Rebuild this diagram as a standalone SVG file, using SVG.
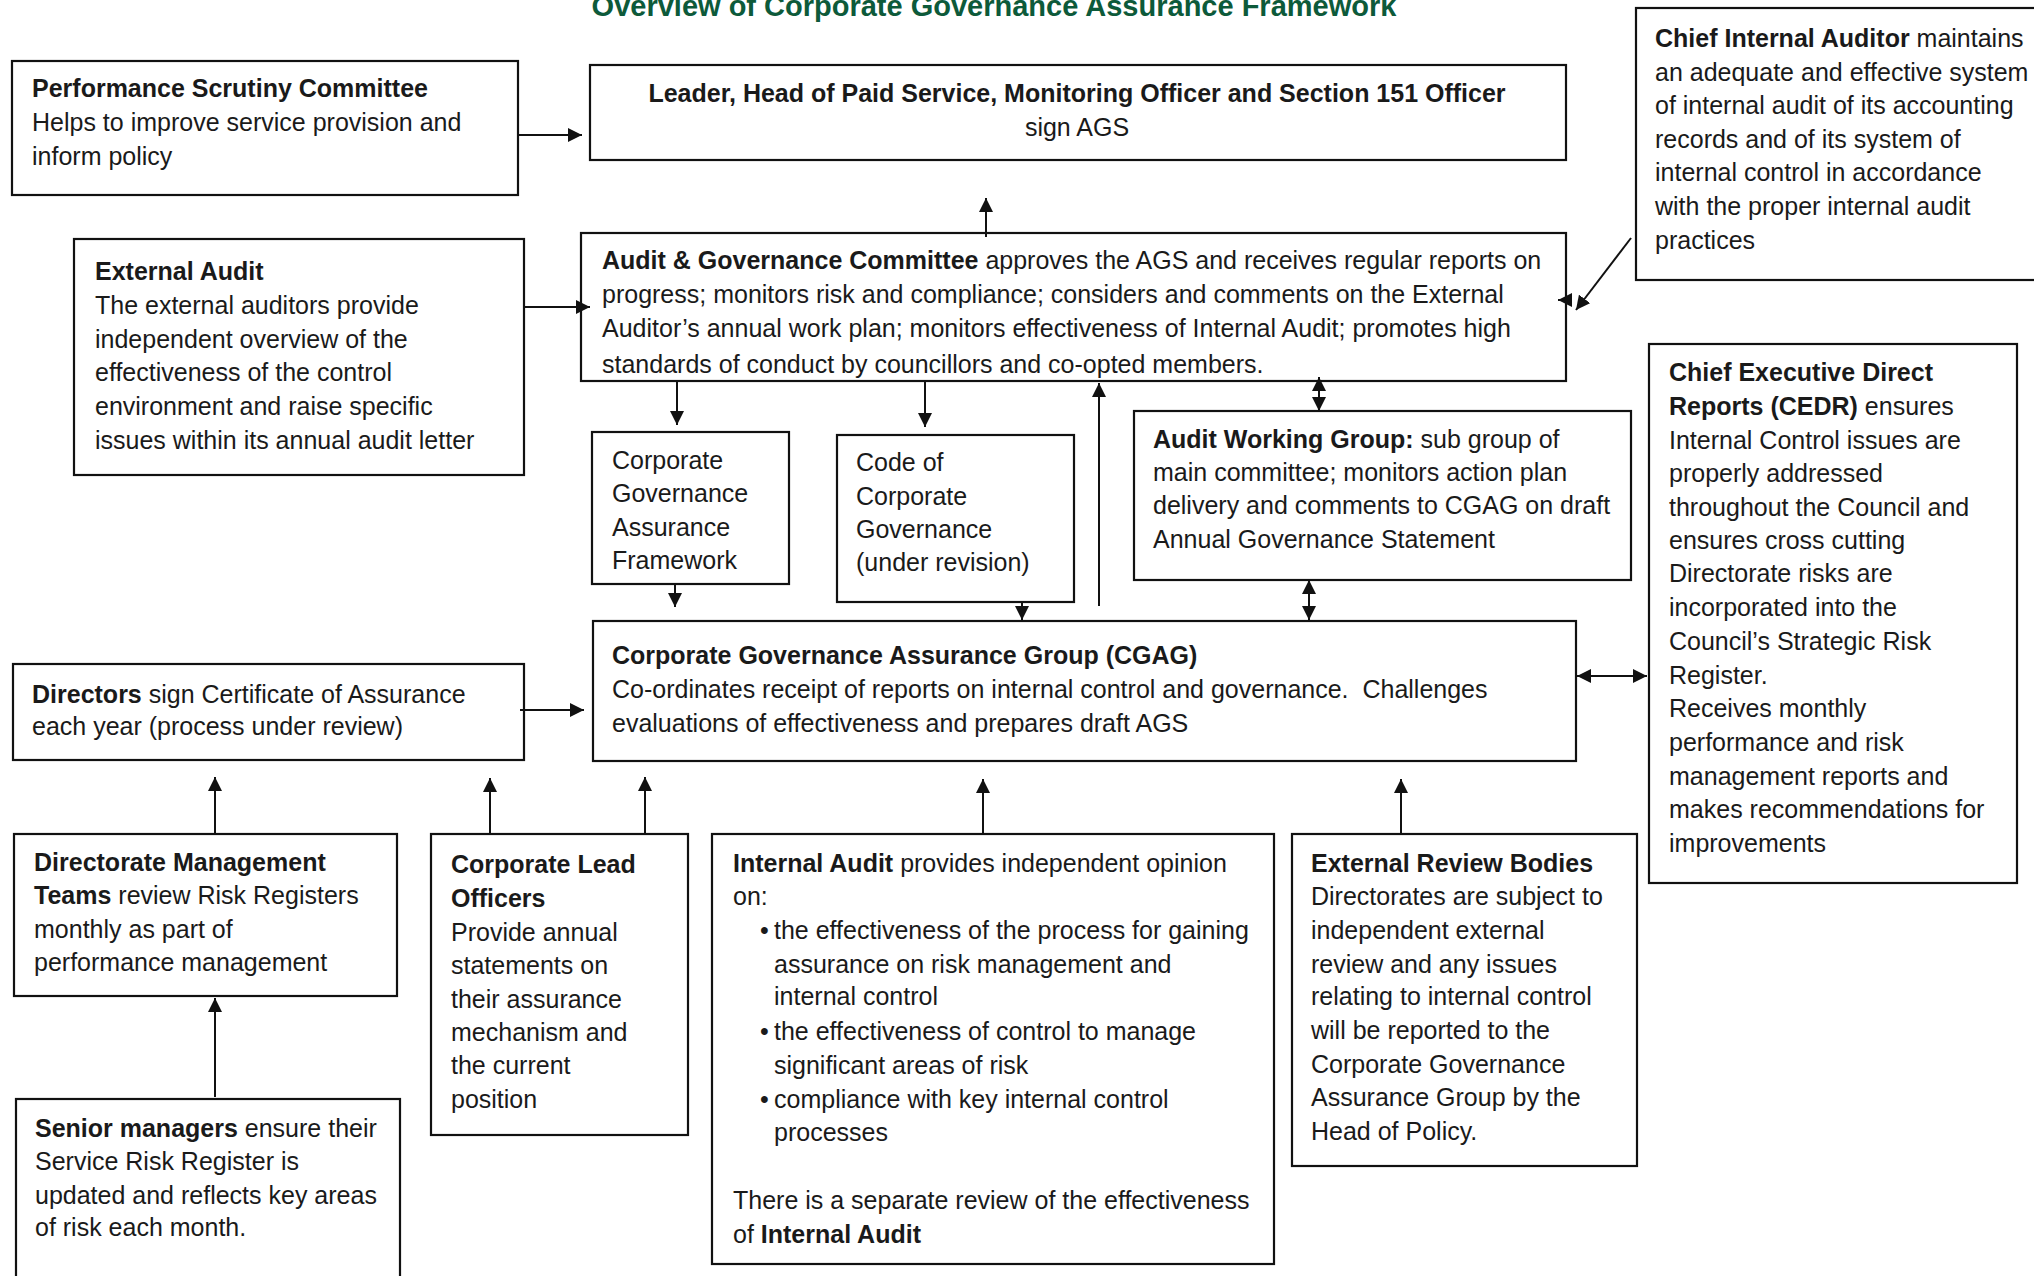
<svg xmlns="http://www.w3.org/2000/svg" width="2034" height="1276" viewBox="0 0 2034 1276">
<style>
.box{fill:#fff;stroke:#111;stroke-width:2.2}
.t{font-family:"Liberation Sans",Arial,sans-serif;font-size:25px;fill:#1a1a1a}
.b{font-weight:bold}
.title{font-family:"Liberation Sans",Arial,sans-serif;font-size:29px;font-weight:bold;fill:#0d5a3a}
.c{fill:none;stroke:#111;stroke-width:2}
</style>
<defs>
<marker id="ah" markerUnits="userSpaceOnUse" markerWidth="14" markerHeight="14" refX="14" refY="7" orient="auto-start-reverse">
<path d="M0,0 L14,7 L0,14 z" fill="#111"/>
</marker>
<clipPath id="agclip"><rect x="581" y="233" width="985" height="148"/></clipPath>
</defs>
<rect width="2034" height="1276" fill="#fff"/>
<text class="title" x="994" y="16" text-anchor="middle">Overview of Corporate Governance Assurance Framework</text>

<g id="psc">
<rect class="box" x="12" y="61" width="506" height="134"/>
<text class="t" x="32" y="97"><tspan class="b">Performance Scrutiny Committee</tspan></text>
<text class="t" x="32" y="131">Helps to improve service provision and</text>
<text class="t" x="32" y="165">inform policy</text>
</g>

<g id="leader">
<rect class="box" x="590" y="65" width="976" height="95"/>
<text class="t b" x="1077" y="102" text-anchor="middle">Leader, Head of Paid Service, Monitoring Officer and Section 151 Officer</text>
<text class="t" x="1077" y="136" text-anchor="middle">sign AGS</text>
</g>

<g id="cia">
<rect class="box" x="1636" y="8" width="410" height="272"/>
<text class="t" x="1655" y="47"><tspan class="b">Chief Internal Auditor</tspan> maintains</text>
<text class="t" x="1655" y="81">an adequate and effective system</text>
<text class="t" x="1655" y="114">of internal audit of its accounting</text>
<text class="t" x="1655" y="148">records and of its system of</text>
<text class="t" x="1655" y="181">internal control in accordance</text>
<text class="t" x="1655" y="215">with the proper internal audit</text>
<text class="t" x="1655" y="249">practices</text>
</g>

<g id="agc">
<rect class="box" x="581" y="233" width="985" height="148"/>
<g clip-path="url(#agclip)">
<text class="t" x="602" y="269"><tspan class="b">Audit &amp; Governance Committee</tspan> approves the AGS and receives regular reports on</text>
<text class="t" x="602" y="303">progress; monitors risk and compliance; considers and comments on the External</text>
<text class="t" x="602" y="337">Auditor’s annual work plan; monitors effectiveness of Internal Audit; promotes high</text>
<text class="t" x="602" y="373">standards of conduct by councillors and co-opted members.</text>
</g>
</g>

<g id="extaudit">
<rect class="box" x="74" y="239" width="450" height="236"/>
<text class="t b" x="95" y="280">External Audit</text>
<text class="t" x="95" y="314">The external auditors provide</text>
<text class="t" x="95" y="348">independent overview of the</text>
<text class="t" x="95" y="381">effectiveness of the control</text>
<text class="t" x="95" y="415">environment and raise specific</text>
<text class="t" x="95" y="449">issues within its annual audit letter</text>
</g>

<g id="cgaf">
<rect class="box" x="592" y="432" width="197" height="152"/>
<text class="t" x="612" y="469">Corporate</text>
<text class="t" x="612" y="502">Governance</text>
<text class="t" x="612" y="536">Assurance</text>
<text class="t" x="612" y="569">Framework</text>
</g>

<g id="code">
<rect class="box" x="837" y="435" width="237" height="167"/>
<text class="t" x="856" y="471">Code of</text>
<text class="t" x="856" y="505">Corporate</text>
<text class="t" x="856" y="538">Governance</text>
<text class="t" x="856" y="571">(under revision)</text>
</g>

<g id="awg">
<rect class="box" x="1134" y="411" width="497" height="169"/>
<text class="t" x="1153" y="448"><tspan class="b">Audit Working Group:</tspan> sub group of</text>
<text class="t" x="1153" y="481">main committee; monitors action plan</text>
<text class="t" x="1153" y="514">delivery and comments to CGAG on draft</text>
<text class="t" x="1153" y="548">Annual Governance Statement</text>
</g>

<g id="cedr">
<rect class="box" x="1649" y="344" width="368" height="539"/>
<text class="t b" x="1669" y="381">Chief Executive Direct</text>
<text class="t" x="1669" y="415"><tspan class="b">Reports (CEDR)</tspan> ensures</text>
<text class="t" x="1669" y="449">Internal Control issues are</text>
<text class="t" x="1669" y="482">properly addressed</text>
<text class="t" x="1669" y="516">throughout the Council and</text>
<text class="t" x="1669" y="549">ensures cross cutting</text>
<text class="t" x="1669" y="582">Directorate risks are</text>
<text class="t" x="1669" y="616">incorporated into the</text>
<text class="t" x="1669" y="650">Council’s Strategic Risk</text>
<text class="t" x="1669" y="684">Register.</text>
<text class="t" x="1669" y="717">Receives monthly</text>
<text class="t" x="1669" y="751">performance and risk</text>
<text class="t" x="1669" y="785">management reports and</text>
<text class="t" x="1669" y="818">makes recommendations for</text>
<text class="t" x="1669" y="852">improvements</text>
</g>

<g id="cgag">
<rect class="box" x="593" y="621" width="983" height="140"/>
<text class="t b" x="612" y="664">Corporate Governance Assurance Group (CGAG)</text>
<text class="t" x="612" y="698" xml:space="preserve">Co-ordinates receipt of reports on internal control and governance.  Challenges</text>
<text class="t" x="612" y="732">evaluations of effectiveness and prepares draft AGS</text>
</g>

<g id="directors">
<rect class="box" x="13" y="664" width="511" height="96"/>
<text class="t" x="32" y="703"><tspan class="b">Directors</tspan> sign Certificate of Assurance</text>
<text class="t" x="32" y="735">each year (process under review)</text>
</g>

<g id="dmt">
<rect class="box" x="14" y="834" width="383" height="162"/>
<text class="t b" x="34" y="871">Directorate Management</text>
<text class="t" x="34" y="904"><tspan class="b">Teams</tspan> review Risk Registers</text>
<text class="t" x="34" y="938">monthly as part of</text>
<text class="t" x="34" y="971">performance management</text>
</g>

<g id="senior">
<rect class="box" x="16" y="1099" width="384" height="190"/>
<text class="t" x="35" y="1137"><tspan class="b">Senior managers</tspan> ensure their</text>
<text class="t" x="35" y="1170">Service Risk Register is</text>
<text class="t" x="35" y="1204">updated and reflects key areas</text>
<text class="t" x="35" y="1236">of risk each month.</text>
</g>

<g id="clo">
<rect class="box" x="431" y="834" width="257" height="301"/>
<text class="t b" x="451" y="873">Corporate Lead</text>
<text class="t b" x="451" y="907">Officers</text>
<text class="t" x="451" y="941">Provide annual</text>
<text class="t" x="451" y="974">statements on</text>
<text class="t" x="451" y="1008">their assurance</text>
<text class="t" x="451" y="1041">mechanism and</text>
<text class="t" x="451" y="1074">the current</text>
<text class="t" x="451" y="1108">position</text>
</g>

<g id="ia">
<rect class="box" x="712" y="834" width="562" height="430"/>
<text class="t" x="733" y="872"><tspan class="b">Internal Audit</tspan> provides independent opinion</text>
<text class="t" x="733" y="905">on:</text>
<text class="t" x="760" y="939">•</text>
<text class="t" x="774" y="939">the effectiveness of the process for gaining</text>
<text class="t" x="774" y="973">assurance on risk management and</text>
<text class="t" x="774" y="1005">internal control</text>
<text class="t" x="760" y="1040">•</text>
<text class="t" x="774" y="1040">the effectiveness of control to manage</text>
<text class="t" x="774" y="1074">significant areas of risk</text>
<text class="t" x="760" y="1108">•</text>
<text class="t" x="774" y="1108">compliance with key internal control</text>
<text class="t" x="774" y="1141">processes</text>
<text class="t" x="733" y="1209">There is a separate review of the effectiveness</text>
<text class="t" x="733" y="1243">of <tspan class="b">Internal Audit</tspan></text>
</g>

<g id="erb">
<rect class="box" x="1292" y="834" width="345" height="332"/>
<text class="t b" x="1311" y="872">External Review Bodies</text>
<text class="t" x="1311" y="905">Directorates are subject to</text>
<text class="t" x="1311" y="939">independent external</text>
<text class="t" x="1311" y="973">review and any issues</text>
<text class="t" x="1311" y="1005">relating to internal control</text>
<text class="t" x="1311" y="1039">will be reported to the</text>
<text class="t" x="1311" y="1073">Corporate Governance</text>
<text class="t" x="1311" y="1106">Assurance Group by the</text>
<text class="t" x="1311" y="1140">Head of Policy.</text>
</g>

<g id="connectors">
<path class="c" d="M518,135 L582,135" marker-end="url(#ah)"/>
<path class="c" d="M986,237 L986,198" marker-end="url(#ah)"/>
<path class="c" d="M525,307 L590,307" marker-end="url(#ah)"/>
<path class="c" d="M1631,238 L1576,310" marker-end="url(#ah)"/>
<path class="c" d="M1572,300 L1558,300" marker-end="url(#ah)"/>
<path class="c" d="M677,381 L677,425" marker-end="url(#ah)"/>
<path class="c" d="M925,381 L925,427" marker-end="url(#ah)"/>
<path class="c" d="M675,584 L675,607" marker-end="url(#ah)"/>
<path class="c" d="M1022,602 L1022,620" marker-end="url(#ah)"/>
<path class="c" d="M1099,606 L1099,383" marker-end="url(#ah)"/>
<path class="c" d="M1319,377 L1319,411" marker-start="url(#ah)" marker-end="url(#ah)"/>
<path class="c" d="M1309,580 L1309,620" marker-start="url(#ah)" marker-end="url(#ah)"/>
<path class="c" d="M1577,676 L1647,676" marker-start="url(#ah)" marker-end="url(#ah)"/>
<path class="c" d="M520,710 L584,710" marker-end="url(#ah)"/>
<path class="c" d="M215,833 L215,777" marker-end="url(#ah)"/>
<path class="c" d="M490,833 L490,778" marker-end="url(#ah)"/>
<path class="c" d="M645,833 L645,777" marker-end="url(#ah)"/>
<path class="c" d="M983,833 L983,779" marker-end="url(#ah)"/>
<path class="c" d="M1401,833 L1401,779" marker-end="url(#ah)"/>
<path class="c" d="M215,1097 L215,998" marker-end="url(#ah)"/>
</g>
</svg>
